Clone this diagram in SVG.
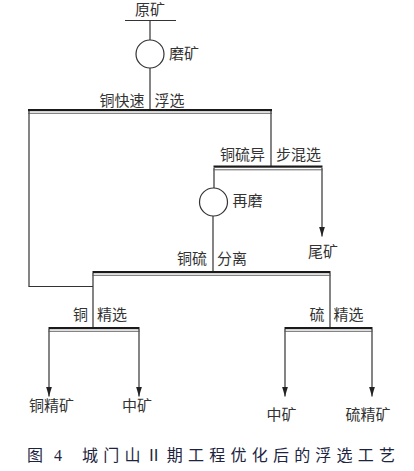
<svg xmlns="http://www.w3.org/2000/svg" width="414" height="471" viewBox="0 0 414 471">
<defs>
<marker id="arr" viewBox="0 0 10 6" markerWidth="10" markerHeight="6" refX="10" refY="3" orient="auto" markerUnits="userSpaceOnUse">
<path d="M0,0 L10,3 L0,6 Z" fill="#222"/>
</marker>
<style>
.t{font-family:"Liberation Serif","Noto Sans CJK SC",serif;font-size:15px;fill:#333;text-anchor:middle;dominant-baseline:central}
.ln{stroke:#333;stroke-width:1.2;fill:none}
.bar{fill:#1a1a1a}
.thin{stroke:#555;stroke-width:0.9;fill:none}
.c{fill:#fff;stroke:#333;stroke-width:1.2}
.cap{font-family:"Liberation Serif","Noto Sans CJK SC",serif;font-size:16px;fill:#1c2440;dominant-baseline:central}
</style>
</defs>
<rect width="414" height="471" fill="#fff"/>
<g id="connectors">
<line class="ln" x1="125" y1="20.5" x2="176" y2="20.5"/>
<line class="ln" x1="150" y1="20.5" x2="150" y2="40"/>
<line class="ln" x1="150" y1="68" x2="150" y2="110"/>
<line class="ln" x1="29" y1="111" x2="29" y2="286.5"/>
<line class="ln" x1="28.5" y1="286.5" x2="93" y2="286.5"/>
<line class="ln" x1="271" y1="111" x2="271" y2="167"/>
<line class="ln" x1="214" y1="168" x2="214" y2="188"/>
<line class="ln" x1="213" y1="216" x2="213" y2="272"/>
<line class="ln" x1="322" y1="168" x2="322" y2="236.5" marker-end="url(#arr)"/>
<line class="ln" x1="93" y1="273" x2="93" y2="328"/>
<line class="ln" x1="330" y1="273" x2="330" y2="328"/>
<line class="ln" x1="49" y1="329" x2="49" y2="396.5" marker-end="url(#arr)"/>
<line class="ln" x1="139" y1="329" x2="139" y2="396.5" marker-end="url(#arr)"/>
<line class="ln" x1="285" y1="329" x2="285" y2="396.5" marker-end="url(#arr)"/>
<line class="ln" x1="372" y1="329" x2="372" y2="396.5" marker-end="url(#arr)"/>
</g>
<g id="raw-ore">
<text class="t" x="150" y="10">原矿</text>
</g>
<g id="grinding">
<circle class="c" cx="150" cy="54" r="14"/>
<text class="t" x="184" y="54">磨矿</text>
</g>
<g id="cu-fast-flotation">
<rect class="bar" x="28" y="109" width="244" height="2.2"/>
<line class="thin" x1="28" y1="113.3" x2="272" y2="113.3"/>
<text class="t" x="122" y="100.5">铜快速</text>
<text class="t" x="169.5" y="100.5">浮选</text>
</g>
<g id="cu-s-mixed-flotation">
<rect class="bar" x="213.5" y="165.5" width="109" height="2.2"/>
<line class="thin" x1="213.5" y1="169.8" x2="322.5" y2="169.8"/>
<text class="t" x="242.5" y="155">铜硫异</text>
<text class="t" x="298.5" y="155">步混选</text>
</g>
<g id="regrind">
<circle class="c" cx="213.5" cy="202" r="14"/>
<text class="t" x="247.5" y="200.5">再磨</text>
</g>
<g id="tailings">
<text class="t" x="323" y="251.5">尾矿</text>
</g>
<g id="cu-s-separation">
<rect class="bar" x="92.5" y="271" width="238" height="2.2"/>
<line class="thin" x1="92.5" y1="275.3" x2="330.5" y2="275.3"/>
<text class="t" x="192" y="259">铜硫</text>
<text class="t" x="232" y="259">分离</text>
</g>
<g id="cu-cleaning">
<rect class="bar" x="48.5" y="327" width="91" height="2.2"/>
<line class="thin" x1="48.5" y1="331.3" x2="139.5" y2="331.3"/>
<text class="t" x="80.5" y="314.5">铜</text>
<text class="t" x="112" y="314.5">精选</text>
</g>
<g id="s-cleaning">
<rect class="bar" x="284.5" y="327" width="88" height="2.2"/>
<line class="thin" x1="284.5" y1="331.3" x2="372.5" y2="331.3"/>
<text class="t" x="317" y="315">硫</text>
<text class="t" x="348.5" y="315">精选</text>
</g>
<g id="cu-concentrate">
<text class="t" x="51.5" y="405.5">铜精矿</text>
</g>
<g id="middlings-cu">
<text class="t" x="137" y="405.5">中矿</text>
</g>
<g id="middlings-s">
<text class="t" x="281.5" y="414.5">中矿</text>
</g>
<g id="s-concentrate">
<text class="t" x="368" y="414.5">硫精矿</text>
</g>
<g id="caption">
<text class="cap" x="27" y="455">图</text>
<text class="cap" x="54" y="455">4</text>
<text class="cap" x="82" y="455" textLength="313" lengthAdjust="spacing">城门山Ⅱ期工程优化后的浮选工艺</text>
</g>
</svg>
